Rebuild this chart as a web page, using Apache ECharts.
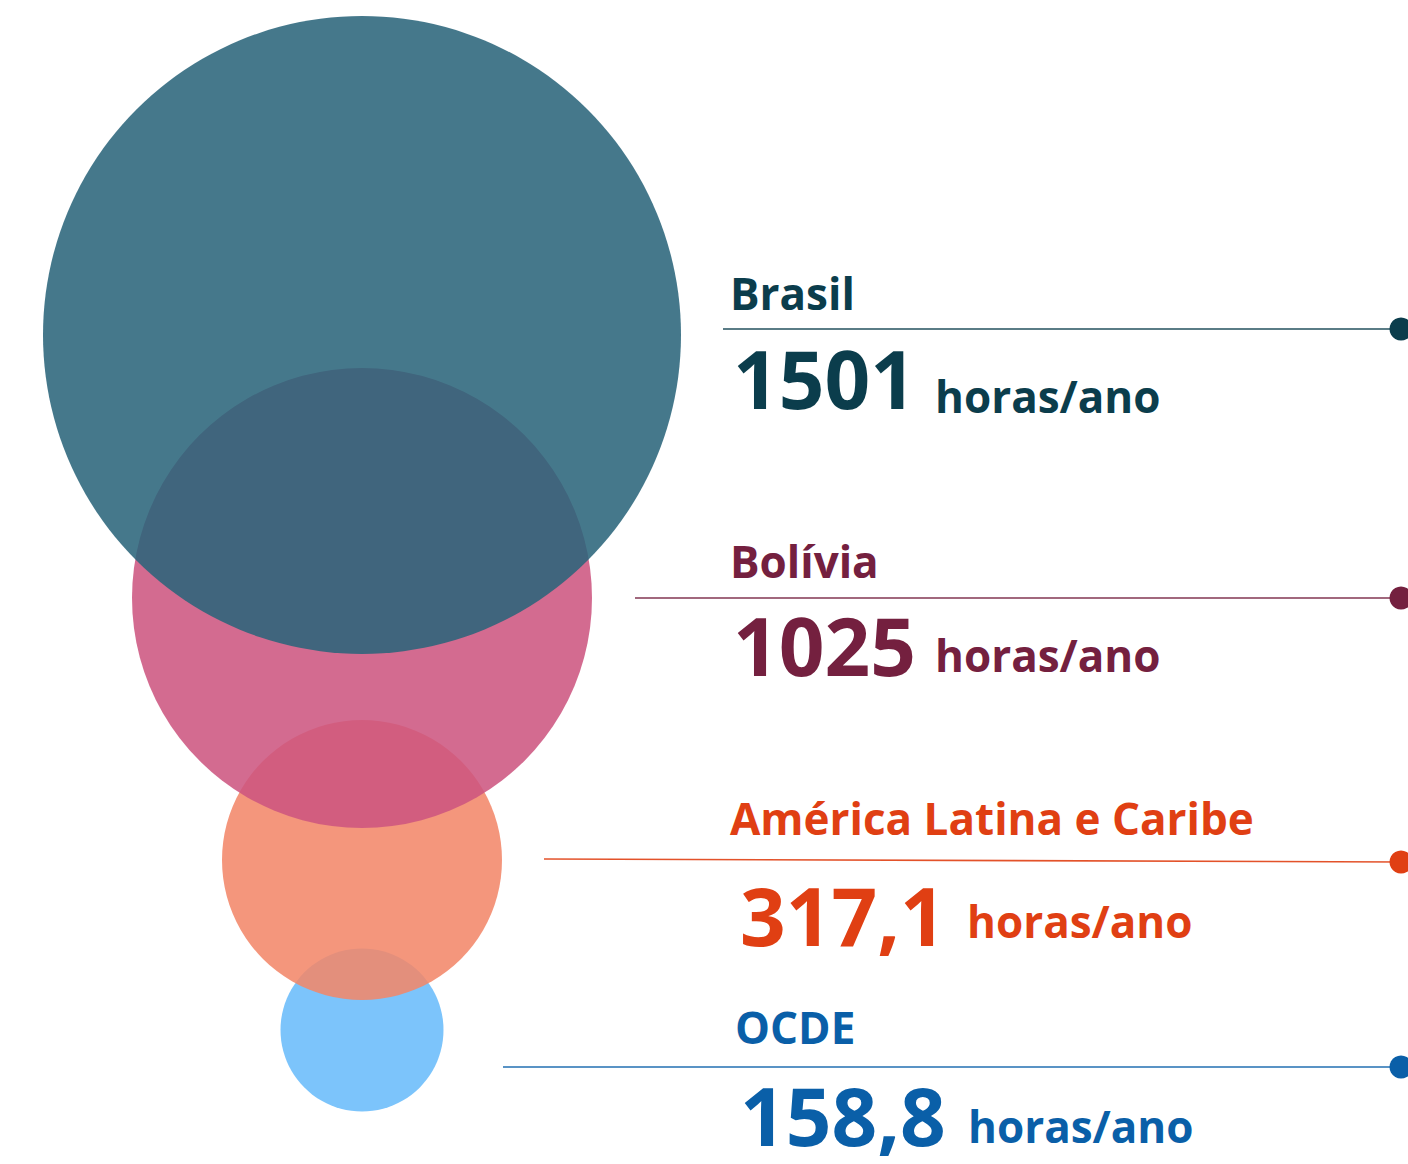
<!DOCTYPE html>
<html>
<head>
<meta charset="utf-8">
<script src="https://cdn.jsdelivr.net/npm/echarts@6/dist/echarts.min.js"></script>
<style>
    html, body { margin: 0; padding: 0; background: #fff; }
    #chart { width: 1408px; height: 1164px; }
</style>
</head>
<body>
<div id="chart"></div>
<script>
// dados
const regioes = ['Brasil', 'Bolívia', 'América Latina e Caribe', 'OCDE']
const horasAno = [1501, 1025, 317.1, 158.8]
const unidade = 'horas/ano'

// cores
const corCirculo = ['#29647a', '#cd5580', '#f28668', '#68bbfa']
const corTexto = ['#0b3d4c', '#74203f', '#e03f13', '#0a5fa8']

// layout (px)
const W = 1408
const H = 1164
const circuloX = 362
const circuloY = [335, 598, 860, 1030]
const diametro = [638, 460, 280, 163]
const linhaY = [[329, 329], [598, 598], [859, 862], [1067, 1067]]
const linhaX0 = [723, 635, 544, 503]
const linhaX1 = 1401
const nomeX = [730, 730, 730, 735]
const nomeBase = [310, 578, 835, 1044]
const numX = [733, 733, 740, 740]
const numBase = [408, 675, 945, 1145]
const unidX = [935, 935, 967, 968]
const unidBase = [413, 672, 938, 1143]

const FONTE = "'Open Sans', 'Noto Sans', sans-serif"
const fsNome = 44
const fsNum = 80
const fsUnid = 44

const fmt = (v) => String(v).replace('.', ',')

const myChart = echarts.init(document.getElementById('chart'), null, { renderer: 'svg' })

// circulos: o maior fica por cima
const ordem = [3, 2, 1, 0]
const circulos = ordem.map((i) => ({
    name: regioes[i],
    value: [circuloX, circuloY[i], horasAno[i]],
    symbolSize: diametro[i],
    itemStyle: { color: corCirculo[i], opacity: 0.87 }
}))

// linhas com ponto no final
const linhas = regioes.map((nome, i) => ({
    type: 'line',
    name: nome,
    data: [[linhaX0[i], linhaY[i][0]], [linhaX1, linhaY[i][1]]],
    symbol: 'circle',
    showSymbol: true,
    symbolSize: (val, p) => (p.dataIndex === 1 ? 23 : 0),
    lineStyle: { color: corTexto[i], width: 1.6, opacity: 0.9 },
    itemStyle: { color: corTexto[i], opacity: 1, borderWidth: 0 },
    silent: true,
    z: 3
}))

function serieTexto(xs, bases, fs, textos) {
    return {
        type: 'scatter',
        symbolSize: 0,
        silent: true,
        z: 5,
        itemStyle: { color: 'transparent', opacity: 1 },
        data: textos.map((t, i) => ({
            value: [xs[i], bases[i] - fs * 0.38],
            label: {
                show: true,
                position: [0, 0],
                align: 'left',
                verticalAlign: 'middle',
                formatter: t,
                color: corTexto[i],
                opacity: 1,
                fontFamily: FONTE,
                fontWeight: 'bold',
                fontSize: fs,
                lineHeight: fs
            }
        }))
    }
}

const option = {
    animation: false,
    grid: { left: 0, right: 0, top: 0, bottom: 0 },
    xAxis: { type: 'value', min: 0, max: W, show: false },
    yAxis: { type: 'value', min: 0, max: H, inverse: true, show: false },
    series: [
        {
            type: 'scatter',
            symbol: 'circle',
            data: circulos,
            silent: true,
            z: 1
        },
        ...linhas,
        serieTexto(nomeX, nomeBase, fsNome, regioes),
        serieTexto(numX, numBase, fsNum, horasAno.map(fmt)),
        serieTexto(unidX, unidBase, fsUnid, regioes.map(() => unidade))
    ]
}
myChart.setOption(option)
</script>
</body>
</html>
